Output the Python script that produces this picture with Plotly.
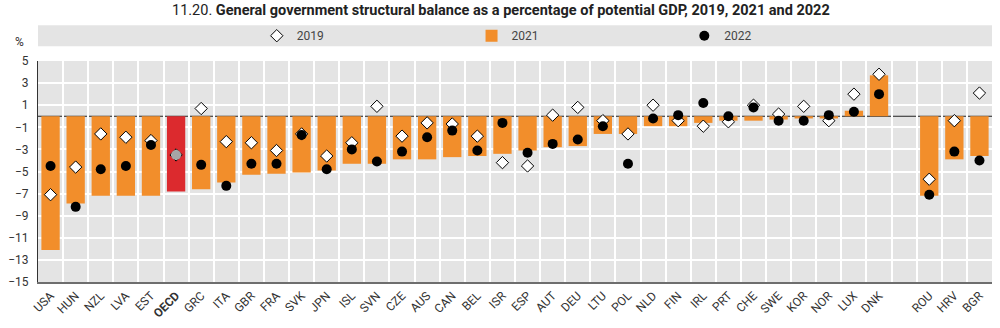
import plotly.graph_objects as go

# Structural balance, % of potential GDP
countries = ["USA", "HUN", "NZL", "LVA", "EST", "OECD", "GRC", "ITA", "GBR", "FRA",
             "SVK", "JPN", "ISL", "SVN", "CZE", "AUS", "CAN", "BEL", "ISR", "ESP",
             "AUT", "DEU", "LTU", "POL", "NLD", "FIN", "IRL", "PRT", "CHE", "SWE",
             "KOR", "NOR", "LUX", "DNK", "ROU", "HRV", "BGR"]

val_2019 = [-7.1, -4.6, -1.6, -1.9, -2.2, -3.5, 0.7, -2.3, -2.4, -3.1,
            -1.6, -3.6, -2.4, 0.9, -1.8, -0.6, -0.7, -1.8, -4.2, -4.5,
            0.1, 0.8, -0.4, -1.6, 1.0, -0.4, -0.9, -0.5, 1.0, 0.2,
            0.9, -0.4, 2.0, 3.8, -5.7, -0.4, 2.1]

val_2021 = [-12.1, -7.9, -7.2, -7.2, -7.2, -6.8, -6.6, -6.0, -5.3, -5.2,
            -5.1, -4.9, -4.3, -4.3, -3.9, -3.9, -3.7, -3.6, -3.4, -3.1,
            -2.8, -2.7, -1.6, -1.6, -0.9, -0.9, -0.6, -0.4, -0.4, -0.3,
            -0.2, -0.2, 0.5, 3.7, -7.2, -3.9, -3.6]

val_2022 = [-4.5, -8.2, -4.8, -4.5, -2.6, -3.5, -4.4, -6.3, -4.3, -4.3,
            -1.7, -4.8, -3.0, -4.1, -3.2, -1.9, -1.3, -3.1, -0.6, -3.3,
            -2.5, -2.1, -0.9, -4.3, -0.2, 0.1, 1.2, 0.0, 0.8, -0.4,
            -0.4, 0.1, 0.4, 2.0, -7.1, -3.2, -4.0]

# one empty slot separates the OECD members from the accession countries
gap_label = " "
x_order = countries[:34] + [gap_label] + countries[34:]
tick_text = ["<b>OECD</b>" if c == "OECD" else c for c in x_order]
y_ticks = [5, 3, 1, -1, -3, -5, -7, -9, -11, -13, -15]

ORANGE = "#F28E2B"
RED = "#DC2A2E"
FONT = "Roboto"

W, H = 1000, 328
ML, MR, MT, MB = 37, 8, 61, 44
PW, PH = W - ML - MR, H - MT - MB


def px_x(x):
    return (x - ML) / PW


def px_y(y):
    return (H - MB - y) / PH


bar_colors = [RED if c == "OECD" else ORANGE for c in countries]
dot_colors = ["#A6A6A6" if c == "OECD" else "black" for c in countries]

fig = go.Figure()
fig.add_trace(go.Bar(
    x=countries, y=val_2021, name="2021", marker=dict(color=bar_colors, line_width=0),
    legend="legend2",
))
fig.add_trace(go.Scatter(
    x=countries, y=val_2019, name="2019", mode="markers",
    marker=dict(symbol="diamond", size=9.5, color="white", line=dict(color="black", width=1)),
    legend="legend",
))
fig.add_trace(go.Scatter(
    x=countries, y=val_2022, name="2022", mode="markers",
    marker=dict(symbol="circle", size=10, color=dot_colors, line=dict(width=0)),
    legend="legend3",
))

legend_common = dict(orientation="h", yanchor="middle", xanchor="left",
                     bgcolor="rgba(0,0,0,0)", font=dict(family=FONT, size=12, color="#444"),
                     itemclick=False, traceorder="normal", visible=True)

fig.update_layout(
    width=W, height=H,
    margin=dict(l=ML, r=MR, t=MT, b=MB, pad=0),
    paper_bgcolor="white",
    plot_bgcolor="#E4E4E4",
    bargap=0.27,
    showlegend=True,
    font=dict(family=FONT, size=11, color="#333"),
    legend=dict(x=px_x(256), y=px_y(35.5), **legend_common),
    legend2=dict(x=px_x(471), y=px_y(35.5), **legend_common),
    legend3=dict(x=px_x(684), y=px_y(35.5), **legend_common),
    xaxis=dict(
        type="category", categoryorder="array", categoryarray=x_order,
        tickmode="array", tickvals=x_order, ticktext=tick_text,
        tickson="boundaries", ticks="", tickangle=-45,
        showgrid=True, gridcolor="white", gridwidth=2,
        showline=True, linecolor="#6E6E6E", linewidth=2,
        tickfont=dict(family=FONT, size=12, color="#333"),
        range=[-0.5, len(x_order) - 0.5],
    ),
    yaxis=dict(
        range=[-15, 5], tickmode="array", tickvals=y_ticks,
        ticks="", showgrid=True, gridcolor="white", gridwidth=2,
        showline=True, linecolor="#333", linewidth=1,
        zeroline=False,
        tickfont=dict(family=FONT, size=12, color="#333"),
        ticklabelstandoff=6,
    ),
    shapes=[
        # legend band
        dict(type="rect", xref="paper", yref="paper", x0=0, x1=1,
             y0=px_y(46), y1=px_y(25), fillcolor="#E4E4E4", line_width=0, layer="below"),
        # zero line
        dict(type="line", xref="paper", yref="y", x0=0, x1=1, y0=0, y1=0,
             line=dict(color="#222", width=1.2), layer="below"),
    ],
    annotations=[
        dict(text="11.20. <b>General government structural balance as a percentage of potential GDP, 2019, 2021 and 2022</b>",
             xref="paper", yref="paper", x=px_x(500), y=px_y(10), xanchor="center", yanchor="middle",
             showarrow=False, font=dict(family=FONT, size=14.5, color="#222")),
        dict(text="%", xref="paper", yref="paper", x=px_x(18), y=px_y(42),
             xanchor="center", yanchor="middle", showarrow=False,
             font=dict(family=FONT, size=12, color="#333")),
    ],
)

fig.write_html("out.html")
